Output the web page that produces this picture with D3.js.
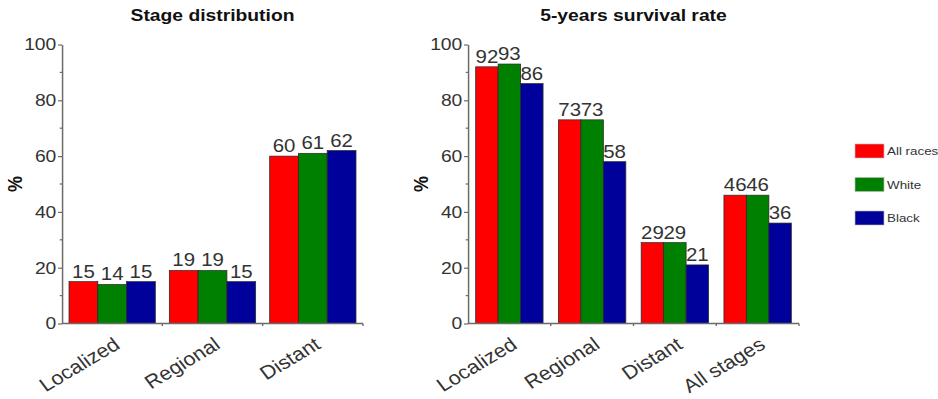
<!DOCTYPE html>
<html>
<head>
<meta charset="utf-8">
<script src="https://cdn.jsdelivr.net/npm/d3@7"></script>
<style>
  html, body { margin: 0; padding: 0; background: #fff; }
  svg { display: block; }
  text { font-family: "Liberation Sans", Arial, sans-serif; }
</style>
</head>
<body>
<svg id="chart"></svg>
<script>
// Series shared by both panels
const seriesNames = ["All races", "White", "Black"];
const seriesColors = ["#ff0000", "#008000", "#00009a"];

// Panel 1: stage distribution (%)
const stageCategories = ["Localized", "Regional", "Distant"];
const stageAllRaces = [15, 19, 60];
const stageWhite = [14, 19, 61];
const stageBlack = [15, 15, 62];

// Panel 2: 5-year relative survival (%)
const survivalCategories = ["Localized", "Regional", "Distant", "All stages"];
const survivalAllRaces = [92, 73, 29, 46];
const survivalWhite = [93, 73, 29, 46];
const survivalBlack = [86, 58, 21, 36];

const yTicks = [0, 20, 40, 60, 80, 100];
const yMinorTicks = [10, 30, 50, 70, 90];

// The drawing is laid out in a slightly narrower coordinate space and
// stretched horizontally to fill the window.
const W = 938, H = 399, SX = 1.135;
const VW = W / SX;
const px = v => v / SX;

const svg = d3.select("#chart")
  .attr("width", W).attr("height", H)
  .attr("viewBox", `0 0 ${VW} ${H}`)
  .attr("preserveAspectRatio", "none");

const y = d3.scaleLinear().domain([0, 100]).range([323.5, 44.5]);
const axisColor = "#6a6a6a";
const textColor = "#333";

function drawPanel(opts) {
  const { title, categories, series, x0, x1, pad } = opts;
  const g = svg.append("g");

  const x = d3.scaleBand().domain(categories).range([x0, x1]).padding(0);
  const bw = x.bandwidth();
  const xs = d3.scaleBand().domain(seriesNames).range([bw * pad, bw * (1 - pad)]).padding(0);

  // title
  g.append("text")
    .attr("x", (x0 + x1) / 2).attr("y", 21)
    .attr("text-anchor", "middle")
    .attr("font-size", 17).attr("font-weight", "bold")
    .attr("fill", "#111")
    .text(title);

  // y-axis title
  g.append("text")
    .attr("transform", `translate(${x0 - px(40)},${y(50)}) rotate(-90)`)
    .attr("text-anchor", "middle")
    .attr("font-size", 18).attr("font-weight", "bold")
    .attr("fill", "#111")
    .text("%");

  // bars
  const groups = g.selectAll("g.cat").data(categories).join("g")
    .attr("class", "cat")
    .attr("transform", d => `translate(${x(d)},0)`);

  groups.selectAll("rect")
    .data((c, ci) => series.map((s, si) => ({ name: seriesNames[si], v: s[ci], color: seriesColors[si] })))
    .join("rect")
    .attr("x", d => xs(d.name))
    .attr("y", d => y(d.v))
    .attr("width", xs.bandwidth())
    .attr("height", d => y(0) - y(d.v))
    .attr("fill", d => d.color)
    .attr("stroke", "#2a2a2a")
    .attr("stroke-width", 0.7);

  groups.selectAll("text.val")
    .data((c, ci) => series.map((s, si) => ({ name: seriesNames[si], v: s[ci] })))
    .join("text")
    .attr("class", "val")
    .attr("x", d => xs(d.name) + xs.bandwidth() / 2)
    .attr("y", d => y(d.v) - 4)
    .attr("text-anchor", "middle")
    .attr("font-size", 18)
    .attr("fill", textColor)
    .text(d => d.v);

  // y axis
  const yAxis = g.append("g")
    .attr("transform", `translate(${x0},0)`)
    .call(d3.axisLeft(y).tickValues(yTicks).tickSize(3.5).tickPadding(1.5).tickSizeOuter(0));
  yAxis.select(".domain").attr("stroke", axisColor).attr("stroke-width", 1.3);
  yAxis.selectAll(".tick line").attr("stroke", axisColor).attr("stroke-width", 1.2);
  yAxis.selectAll(".tick text")
    .attr("font-size", 17).attr("fill", textColor)
    .attr("font-family", "Liberation Sans, Arial, sans-serif");
  yAxis.selectAll("line.minor").data(yMinorTicks).join("line")
    .attr("class", "minor")
    .attr("x1", -2).attr("x2", 0)
    .attr("y1", d => y(d)).attr("y2", d => y(d))
    .attr("stroke", axisColor).attr("stroke-width", 1.2);

  // x axis line with ticks at the band boundaries
  g.append("line")
    .attr("x1", x0).attr("x2", x1)
    .attr("y1", y(0)).attr("y2", y(0))
    .attr("stroke", axisColor).attr("stroke-width", 1.3);
  const bounds = categories.map(c => x(c)).slice(1).concat([x1]);
  g.selectAll("line.xt").data(bounds).join("line")
    .attr("class", "xt")
    .attr("x1", d => d).attr("x2", d => d)
    .attr("y1", y(0)).attr("y2", y(0) + 2.5)
    .attr("stroke", axisColor).attr("stroke-width", 1.2);

  // rotated category labels
  g.selectAll("text.cat").data(categories).join("text")
    .attr("class", "cat")
    .attr("transform", d => `translate(${x(d) + bw / 2 + 8},${y(0) + 24}) rotate(-34)`)
    .attr("text-anchor", "end")
    .attr("font-size", 19)
    .attr("fill", textColor)
    .text(d => d);
}

drawPanel({
  title: "Stage distribution",
  categories: stageCategories,
  series: [stageAllRaces, stageWhite, stageBlack],
  x0: px(62), x1: px(363), pad: 0.07
});

drawPanel({
  title: "5-years survival rate",
  categories: survivalCategories,
  series: [survivalAllRaces, survivalWhite, survivalBlack],
  x0: px(468), x1: px(799), pad: 0.093
});

// legend
const legend = svg.append("g").attr("transform", `translate(${px(855)},144)`);
seriesNames.forEach((name, i) => {
  const row = legend.append("g").attr("transform", `translate(0,${i * 33.5})`);
  row.append("rect")
    .attr("width", px(29)).attr("height", 14)
    .attr("fill", seriesColors[i])
    .attr("stroke", "#bbb").attr("stroke-width", 0.6);
  row.append("text")
    .attr("x", px(32)).attr("y", 11.5)
    .attr("font-size", 11.8)
    .attr("fill", textColor)
    .text(name);
});
</script>
</body>
</html>
